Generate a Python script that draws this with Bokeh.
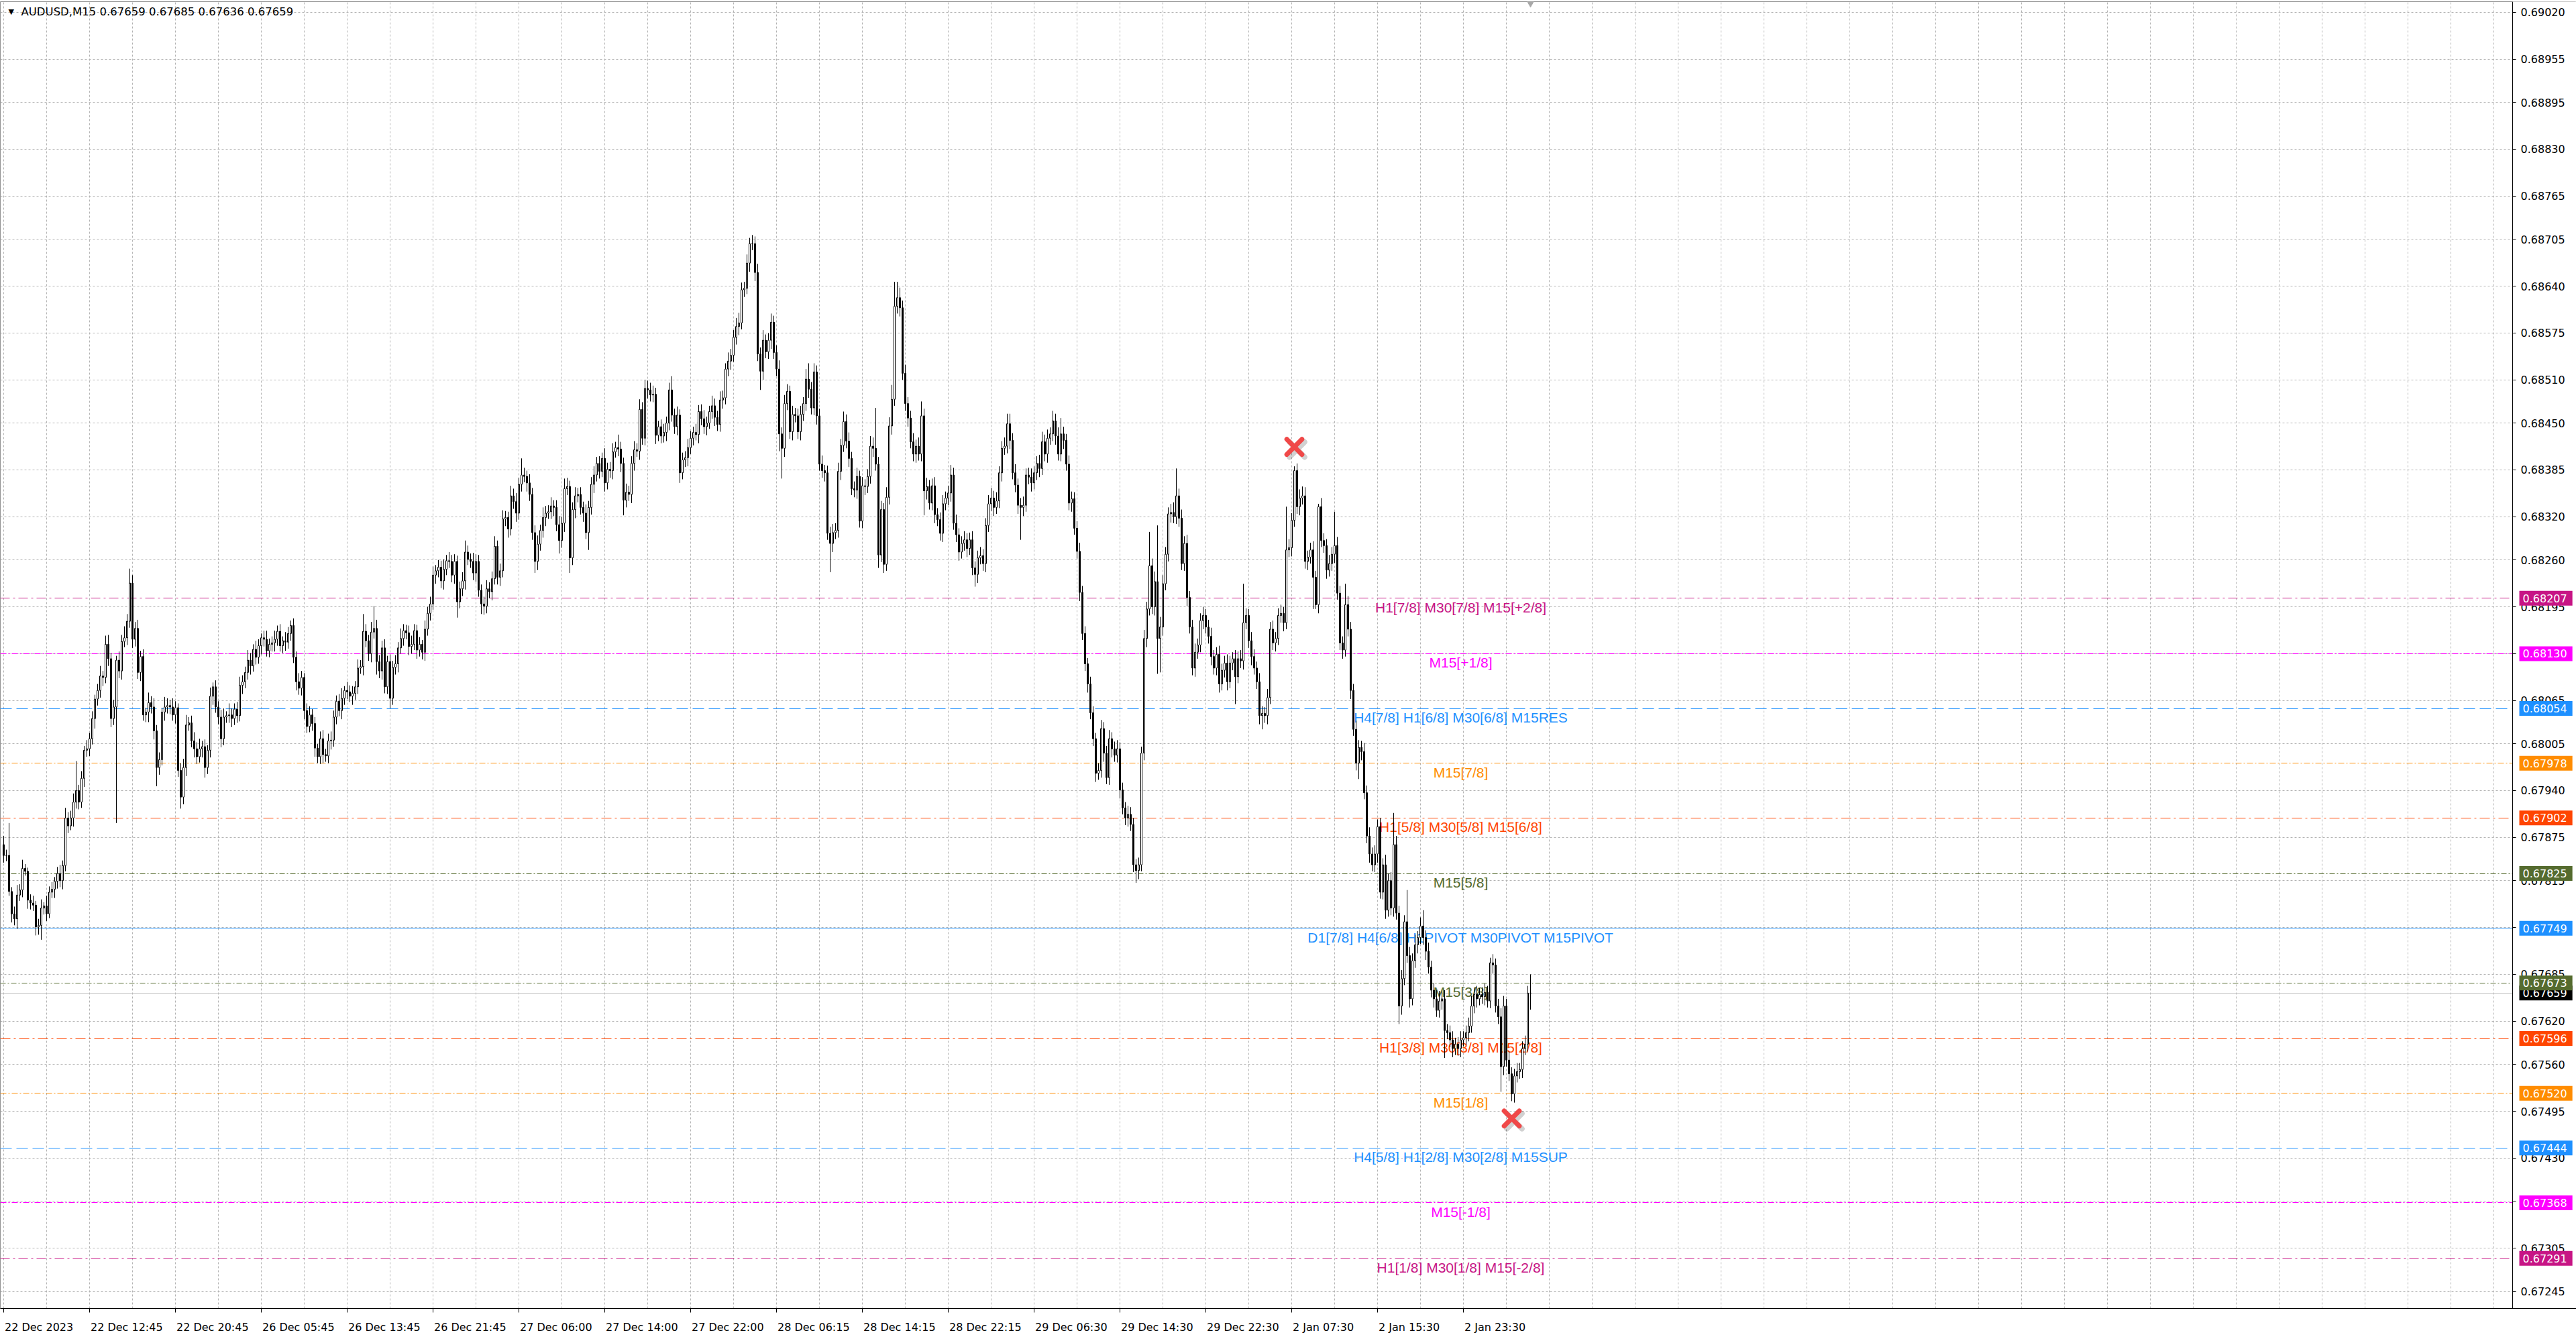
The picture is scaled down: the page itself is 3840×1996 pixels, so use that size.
import numpy as np
from bokeh.plotting import figure
from bokeh.models import (ColumnDataSource, FixedTicker, NumeralTickFormatter,
                          Label, Range1d)
from bokeh.core.properties import value
from bokeh.embed import file_html
from bokeh.resources import INLINE

# ---------------- data ----------------
symbol_title = "AUDUSD,M15  0.67659 0.67685 0.67636 0.67659"
BASE_PRICE = 0.67          # prices below are in points (1e-5) above this base
first_open_pts = 865

close_pts = [
    850, 850, 800, 769, 762, 795, 802, 832, 828, 788,
    784, 781, 751, 753, 777, 780, 769, 799, 803, 814,
    825, 815, 836, 902, 891, 902, 924, 940, 924, 957,
    996, 998, 1012, 1040, 1067, 1079, 1099, 1097, 1143, 1123,
    1040, 1056, 1121, 1106, 1147, 1152, 1175, 1228, 1150, 1165,
    1104, 1126, 1045, 1049, 1062, 1056, 1023, 972, 983, 1049,
    1056, 1058, 1056, 1045, 1055, 968, 931, 972, 1031, 1034,
    1009, 998, 987, 998, 1001, 972, 996, 1071, 1084, 1056,
    1042, 1012, 1042, 1044, 1045, 1040, 1053, 1044, 1086, 1091,
    1104, 1121, 1113, 1136, 1125, 1141, 1152, 1150, 1134, 1143,
    1145, 1150, 1161, 1141, 1148, 1146, 1158, 1169, 1125, 1091,
    1082, 1097, 1051, 1029, 1045, 1033, 999, 987, 1012, 990,
    988, 1009, 1010, 1042, 1064, 1051, 1068, 1079, 1077, 1071,
    1075, 1084, 1110, 1112, 1161, 1148, 1130, 1160, 1165, 1119,
    1106, 1138, 1084, 1119, 1068, 1111, 1116, 1138, 1151, 1162,
    1159, 1140, 1143, 1162, 1135, 1143, 1132, 1164, 1186, 1199,
    1239, 1245, 1250, 1231, 1247, 1259, 1258, 1239, 1258, 1202,
    1220, 1231, 1271, 1261, 1258, 1242, 1258, 1218, 1199, 1196,
    1220, 1216, 1234, 1279, 1236, 1245, 1317, 1319, 1303, 1349,
    1341, 1325, 1365, 1378, 1376, 1367, 1351, 1298, 1258, 1282,
    1301, 1319, 1325, 1327, 1335, 1333, 1309, 1287, 1311, 1359,
    1362, 1263, 1330, 1349, 1351, 1333, 1325, 1298, 1333, 1365,
    1378, 1394, 1383, 1401, 1367, 1386, 1384, 1410, 1416, 1414,
    1394, 1343, 1354, 1351, 1394, 1413, 1411, 1469, 1429, 1498,
    1496, 1489, 1490, 1433, 1445, 1432, 1437, 1450, 1496, 1461,
    1445, 1461, 1381, 1399, 1402, 1416, 1429, 1437, 1434, 1466,
    1456, 1445, 1450, 1466, 1474, 1458, 1448, 1482, 1485, 1525,
    1536, 1544, 1569, 1584, 1589, 1635, 1637, 1672, 1699, 1699,
    1659, 1546, 1522, 1565, 1549, 1565, 1590, 1548, 1525, 1435,
    1415, 1477, 1494, 1438, 1462, 1460, 1438, 1462, 1477, 1511,
    1497, 1471, 1521, 1460, 1393, 1384, 1381, 1297, 1283, 1298,
    1301, 1383, 1419, 1452, 1425, 1401, 1359, 1357, 1376, 1314,
    1363, 1362, 1376, 1418, 1415, 1393, 1267, 1330, 1254, 1347,
    1446, 1483, 1612, 1624, 1610, 1519, 1477, 1457, 1424, 1407,
    1418, 1407, 1460, 1356, 1362, 1339, 1363, 1323, 1316, 1297,
    1338, 1346, 1353, 1378, 1311, 1295, 1271, 1283, 1288, 1276,
    1288, 1249, 1240, 1263, 1266, 1255, 1308, 1338, 1346, 1333,
    1342, 1381, 1415, 1418, 1449, 1426, 1381, 1364, 1336, 1333,
    1336, 1378, 1375, 1367, 1381, 1394, 1387, 1424, 1407, 1429,
    1435, 1453, 1432, 1407, 1435, 1426, 1393, 1339, 1345, 1304,
    1272, 1215, 1158, 1116, 1088, 1048, 1012, 964, 968, 1026,
    992, 958, 1012, 998, 989, 998, 941, 916, 902, 907,
    893, 837, 829, 837, 992, 1151, 1192, 1252, 1195, 1230,
    1151, 1167, 1227, 1268, 1324, 1326, 1320, 1349, 1318, 1255,
    1283, 1208, 1167, 1110, 1132, 1142, 1176, 1183, 1167, 1154,
    1126, 1110, 1129, 1088, 1107, 1117, 1091, 1117, 1123, 1098,
    1123, 1120, 1173, 1183, 1148, 1126, 1110, 1091, 1044, 1047,
    1044, 1069, 1164, 1145, 1151, 1183, 1186, 1173, 1274, 1277,
    1315, 1384, 1334, 1346, 1349, 1258, 1264, 1274, 1236, 1198,
    1334, 1287, 1280, 1246, 1255, 1268, 1280, 1214, 1145, 1135,
    1198, 1164, 1079, 1025, 978, 1000, 994, 937, 877, 852,
    837, 852, 890, 799, 837, 774, 815, 777, 865, 770,
    641, 679, 758, 711, 651, 704, 726, 736, 752, 736,
    717, 695, 663, 651, 635, 648, 651, 607, 604, 594,
    582, 588, 582, 594, 597, 604, 613, 641, 657, 651,
    657, 654, 660, 648, 701, 698, 641, 626, 557, 641,
    566, 547, 519, 544, 550, 553, 582, 588, 659, 659,
]

upper_wick_pts = [
    12, 8, 45, 6, 10, 14, 8, 12, 6, 5,
    8, 10, 6, 9, 12, 5, 14, 8, 10, 6,
    9, 12, 7, 14, 8, 10, 12, 41, 8, 10,
    6, 12, 8, 10, 6, 9, 14, 7, 12, 13,
    8, 10, 6, 12, 9, 16, 10, 20, 11, 9,
    12, 8, 10, 6, 14, 9, 12, 8, 10, 6,
    14, 10, 8, 12, 9, 6, 10, 12, 14, 8,
    10, 12, 9, 14, 8, 10, 7, 12, 6, 9,
    8, 10, 12, 6, 16, 9, 8, 10, 12, 9,
    8, 14, 10, 7, 12, 9, 6, 10, 12, 8,
    9, 12, 8, 10, 6, 12, 9, 7, 10, 8,
    12, 9, 6, 10, 12, 8, 9, 6, 10, 12,
    8, 10, 12, 9, 8, 10, 14, 6, 12, 9,
    10, 8, 12, 9, 24, 10, 8, 14, 31, 12,
    9, 10, 12, 8, 10, 9, 12, 8, 14, 9,
    8, 10, 12, 9, 8, 10, 6, 12, 9, 10,
    12, 8, 10, 9, 14, 8, 12, 9, 10, 8,
    10, 12, 16, 9, 8, 12, 10, 9, 8, 10,
    12, 9, 10, 14, 8, 10, 12, 9, 8, 14,
    10, 12, 9, 23, 10, 8, 12, 9, 10, 12,
    8, 14, 10, 9, 12, 8, 10, 12, 9, 14,
    12, 8, 10, 12, 9, 10, 8, 12, 9, 10,
    12, 9, 10, 8, 14, 9, 10, 12, 8, 18,
    10, 8, 12, 9, 10, 12, 9, 14, 10, 12,
    11, 10, 12, 9, 8, 10, 12, 9, 10, 19,
    9, 12, 8, 10, 9, 12, 10, 8, 12, 9,
    10, 12, 9, 8, 14, 10, 9, 12, 10, 8,
    12, 9, 10, 12, 14, 10, 9, 12, 8, 12,
    10, 12, 9, 14, 8, 10, 12, 9, 10, 12,
    9, 12, 10, 8, 12, 9, 10, 12, 9, 14,
    22, 10, 12, 9, 10, 12, 8, 10, 9, 12,
    10, 12, 9, 14, 10, 12, 9, 10, 12, 8,
    12, 9, 10, 14, 12, 56, 10, 12, 9, 14,
    12, 20, 34, 22, 14, 10, 12, 9, 10, 12,
    9, 12, 20, 10, 12, 9, 10, 12, 9, 10,
    12, 9, 10, 14, 10, 12, 9, 10, 12, 9,
    10, 12, 9, 10, 12, 9, 10, 12, 14, 10,
    12, 9, 10, 12, 14, 14, 10, 12, 9, 10,
    12, 9, 10, 12, 9, 10, 12, 14, 10, 12,
    9, 14, 10, 12, 22, 10, 9, 12, 10, 9,
    10, 12, 9, 10, 8, 10, 9, 8, 10, 12,
    9, 10, 12, 9, 10, 12, 9, 10, 8, 12,
    10, 9, 8, 10, 9, 12, 10, 47, 10, 14,
    78, 14, 12, 10, 9, 12, 14, 38, 10, 12,
    10, 12, 9, 10, 12, 9, 10, 12, 9, 10,
    12, 9, 10, 12, 9, 10, 12, 10, 9, 12,
    10, 12, 54, 10, 9, 12, 10, 9, 12, 10,
    9, 12, 10, 12, 9, 10, 12, 9, 60, 12,
    10, 6, 10, 12, 13, 12, 9, 10, 12, 9,
    4, 12, 10, 9, 12, 10, 47, 12, 10, 9,
    29, 12, 10, 9, 12, 10, 9, 12, 10, 12,
    9, 12, 10, 12, 9, 14, 10, 12, 44, 12,
    10, 12, 9, 44, 12, 10, 14, 9, 12, 22,
    10, 12, 9, 10, 12, 14, 10, 12, 9, 10,
    12, 9, 10, 12, 9, 10, 12, 14, 10, 12,
    9, 10, 12, 9, 7, 12, 9, 10, 12, 14,
    10, 12, 9, 10, 12, 9, 10, 12, 10, 26,
]

lower_wick_pts = [
    10, 8, 6, 12, 9, 14, 8, 10, 6, 12,
    9, 8, 12, 11, 20, 9, 10, 6, 8, 12,
    10, 9, 12, 8, 10, 6, 12, 9, 10, 8,
    12, 9, 10, 8, 14, 9, 10, 12, 8, 10,
    12, 9, 161, 10, 12, 8, 10, 9, 12, 10,
    9, 12, 8, 10, 14, 9, 12, 26, 10, 8,
    12, 9, 10, 8, 12, 9, 16, 10, 12, 8,
    9, 12, 10, 8, 12, 14, 9, 10, 12, 8,
    10, 12, 9, 8, 10, 12, 9, 10, 8, 12,
    9, 10, 12, 8, 10, 9, 12, 10, 8, 9,
    10, 12, 9, 8, 10, 12, 9, 10, 8, 12,
    9, 10, 12, 9, 8, 10, 12, 9, 10, 12,
    8, 10, 12, 9, 10, 8, 12, 9, 10, 8,
    12, 9, 10, 8, 12, 9, 10, 12, 9, 18,
    10, 12, 9, 10, 14, 9, 10, 12, 8, 10,
    9, 12, 10, 8, 12, 9, 10, 12, 9, 10,
    8, 12, 9, 10, 12, 8, 9, 10, 12, 22,
    9, 10, 12, 8, 9, 10, 12, 9, 14, 12,
    10, 9, 12, 8, 10, 12, 9, 10, 12, 9,
    10, 12, 9, 10, 8, 12, 9, 10, 16, 12,
    9, 10, 12, 8, 10, 12, 9, 18, 10, 12,
    9, 21, 10, 12, 9, 10, 12, 9, 24, 10,
    12, 9, 10, 8, 12, 9, 10, 12, 8, 10,
    12, 21, 10, 9, 12, 10, 8, 12, 9, 10,
    12, 9, 10, 12, 8, 10, 9, 12, 10, 9,
    10, 12, 14, 9, 10, 12, 9, 10, 8, 12,
    9, 10, 12, 8, 10, 12, 9, 10, 12, 9,
    10, 12, 9, 10, 12, 9, 10, 8, 12, 9,
    12, 10, 26, 12, 9, 10, 12, 9, 10, 24,
    42, 12, 9, 10, 12, 9, 10, 12, 9, 10,
    12, 9, 10, 12, 9, 10, 12, 9, 40, 12,
    9, 10, 12, 9, 10, 12, 9, 10, 12, 9,
    10, 12, 9, 10, 12, 9, 18, 10, 12, 9,
    10, 12, 9, 10, 12, 9, 10, 12, 9, 10,
    12, 9, 10, 34, 12, 9, 10, 12, 9, 10,
    12, 9, 10, 12, 9, 10, 12, 9, 10, 12,
    9, 10, 17, 12, 9, 10, 12, 9, 10, 12,
    9, 10, 12, 9, 10, 12, 9, 10, 12, 45,
    12, 9, 10, 12, 9, 10, 12, 9, 10, 12,
    9, 10, 12, 9, 10, 12, 9, 10, 12, 9,
    10, 12, 9, 10, 12, 9, 10, 12, 9, 10,
    12, 9, 10, 12, 9, 10, 12, 9, 10, 12,
    9, 10, 17, 12, 9, 10, 12, 9, 10, 12,
    49, 47, 12, 9, 10, 12, 9, 10, 12, 9,
    10, 12, 9, 10, 12, 9, 10, 12, 9, 10,
    12, 9, 10, 12, 9, 10, 12, 9, 10, 38,
    9, 10, 12, 9, 10, 12, 9, 10, 12, 19,
    10, 12, 9, 10, 12, 9, 10, 12, 9, 10,
    12, 9, 10, 12, 9, 10, 12, 9, 44, 6,
    12, 9, 10, 12, 9, 10, 12, 9, 10, 12,
    9, 10, 12, 9, 10, 22, 12, 9, 10, 12,
    9, 10, 12, 9, 10, 12, 9, 10, 12, 9,
    25, 12, 9, 10, 12, 9, 10, 12, 9, 10,
    12, 9, 10, 12, 9, 10, 12, 38, 9, 10,
    12, 9, 10, 12, 9, 10, 12, 9, 10, 12,
    9, 10, 12, 9, 10, 12, 9, 10, 35, 12,
    9, 10, 10, 12, 9, 10, 12, 9, 10, 23,
]

time_labels = ["22 Dec 2023", "22 Dec 12:45", "22 Dec 20:45", "26 Dec 05:45",
               "26 Dec 13:45", "26 Dec 21:45", "27 Dec 06:00", "27 Dec 14:00",
               "27 Dec 22:00", "28 Dec 06:15", "28 Dec 14:15", "28 Dec 22:15",
               "29 Dec 06:30", "29 Dec 14:30", "29 Dec 22:30", "2 Jan 07:30",
               "2 Jan 15:30", "2 Jan 23:30"]
bars_per_label = 32
bars_per_grid = 16

price_ticks = [0.69020, 0.68955, 0.68895, 0.68830, 0.68765, 0.68705, 0.68640,
               0.68575, 0.68510, 0.68450, 0.68385, 0.68320, 0.68260, 0.68195,
               0.68130, 0.68065, 0.68005, 0.67940, 0.67875, 0.67815, 0.67750,
               0.67685, 0.67620, 0.67560, 0.67495, 0.67430, 0.67370, 0.67305,
               0.67245]

level_prices = [0.68207, 0.68130, 0.68054, 0.67978, 0.67902, 0.67825, 0.67749,
                0.67673, 0.67596, 0.67520, 0.67444, 0.67368, 0.67291]
level_kinds = ["oct2", "oct1", "resup", "oct7", "oct6", "oct5", "pivot",
               "oct5", "oct6", "oct7", "resup", "oct1", "oct2"]
level_texts = ["H1[7/8] M30[7/8] M15[+2/8]", "M15[+1/8]",
               "H4[7/8] H1[6/8] M30[6/8] M15RES", "M15[7/8]",
               "H1[5/8] M30[5/8] M15[6/8]", "M15[5/8]",
               "D1[7/8] H4[6/8] H1PIVOT M30PIVOT M15PIVOT", "M15[3/8]",
               "H1[3/8] M30[3/8] M15[2/8]", "M15[1/8]",
               "H4[5/8] H1[2/8] M30[2/8] M15SUP", "M15[-1/8]",
               "H1[1/8] M30[1/8] M15[-2/8]"]
level_label_bar = 543

current_price = 0.67659
fractal_bar = [481, 562]
fractal_price = [0.68417, 0.67485]

# ---------------- styles / geometry ----------------
kind_style = {
    "oct2": ("#C71585", "14 5 3 5"),
    "oct1": ("#FF00FF", "9 3 2 3"),
    "resup": ("#1E90FF", "17 7"),
    "oct7": ("#FF8C00", "9 3 2 3"),
    "oct6": ("#FF4500", "15 5 3 5"),
    "oct5": ("#556B2F", "8 3 2 3"),
    "pivot": ("#1E90FF", "solid"),
}

W, H = 3840, 1996
BORDER_TOP, BORDER_BOTTOM = 2, 46
AXIS_PX = 3745                      # screen x of the price axis line
FRAME_W = W
FRAME_H = H - BORDER_TOP - BORDER_BOTTOM
PX_PER_BAR = 4.0
x_start = -1.25
x_end = x_start + FRAME_W / PX_PER_BAR
axis_x = x_start + AXIS_PX / PX_PER_BAR
y_end = 0.690348
y_start = 0.672213
pxu = FRAME_H / (y_end - y_start)


def snap(pr):
    """nudge a price so that a 1px line lands on a whole pixel row"""
    sy = (y_end - pr) * pxu
    return y_end - np.round(sy) / pxu


# approximate DejaVu Sans advance widths (em) to left-align time labels on their ticks
CHAR_EM = {" ": 0.318, ":": 0.337, "D": 0.770, "e": 0.615, "c": 0.550,
           "J": 0.295, "a": 0.613, "n": 0.634}
AXIS_FONT_PX = 16


def text_px(s):
    return sum(CHAR_EM.get(ch, 0.636) for ch in s) * AXIS_FONT_PX


# ---------------- candles ----------------
c = np.array(close_pts, dtype=float)
o = np.concatenate([[first_open_pts], c[:-1]])
hi = np.maximum(o, c) + np.array(upper_wick_pts)
lo = np.minimum(o, c) - np.array(lower_wick_pts)
idx = np.arange(len(c))


def to_price(a):
    return BASE_PRICE + a / 1e5


src = ColumnDataSource(dict(i=idx, h=to_price(hi), l=to_price(lo)))
bull = c >= o
top_p = to_price(np.maximum(o, c))
bot_p = to_price(np.minimum(o, c))
src_bull = ColumnDataSource(dict(i=idx[bull], top=top_p[bull], bot=bot_p[bull]))
src_bear = ColumnDataSource(dict(i=idx[~bull], top=top_p[~bull], bot=bot_p[~bull]))

p = figure(width=W, height=H, x_range=Range1d(x_start, x_end), y_range=Range1d(y_start, y_end),
           output_backend="svg", toolbar_location=None, y_axis_location="right",
           min_border_left=0, min_border_top=BORDER_TOP, min_border_right=0,
           min_border_bottom=BORDER_BOTTOM)
p.background_fill_color = "white"
p.border_fill_color = "white"
p.outline_line_color = "#909090"
p.outline_line_width = 1

# grid
p.xgrid.ticker = FixedTicker(ticks=list(range(0, int(axis_x) + 1, bars_per_grid)))
p.ygrid.ticker = FixedTicker(ticks=price_ticks)
for g in (p.xgrid, p.ygrid):
    g.grid_line_color = "#b4b4b4"
    g.grid_line_dash = "3 3"
    g.grid_line_width = 1

# time axis: labels placed so that they start at their tick (minor ticks mark bar positions)
tick_bars = [k * bars_per_label for k in range(len(time_labels))]
label_pos = [b + (text_px(t) / 2 + 1.5) / PX_PER_BAR for b, t in zip(tick_bars, time_labels)]
ax = p.xaxis[0]
ax.ticker = FixedTicker(ticks=label_pos, minor_ticks=tick_bars)
ax.major_label_overrides = {lp: t for lp, t in zip(label_pos, time_labels)}
ax.major_label_text_font = "DejaVu Sans"
ax.major_label_text_font_size = f"{AXIS_FONT_PX}px"
ax.major_label_text_color = "black"
ax.major_tick_out = 0
ax.major_tick_in = 0
ax.minor_tick_out = 6
ax.minor_tick_in = 0
ax.major_label_standoff = 12
ax.axis_line_color = "black"
ax.minor_tick_line_color = "black"

# price axis drawn at a fixed location inside the (full width) frame
ay = p.yaxis[0]
ay.fixed_location = axis_x
ay.ticker = FixedTicker(ticks=price_ticks)
ay.formatter = NumeralTickFormatter(format="0.00000")
ay.major_label_text_font = "DejaVu Sans"
ay.major_label_text_font_size = "16px"
ay.major_label_text_color = "black"
ay.major_tick_out = 5
ay.major_tick_in = 0
ay.minor_tick_out = 0
ay.minor_tick_in = 0
ay.major_label_standoff = 7
ay.axis_line_color = "black"
ay.major_tick_line_color = "black"

# blank price-scale strip right of the axis line (hides grid there)
p.quad(left=[axis_x], right=[x_end + 2], bottom=[y_start - 0.001], top=[y_end + 0.001],
       fill_color="white", line_color=None)

# level lines (stop at the price axis, behind candles)
for pr, kd in zip(level_prices, level_kinds):
    col, dash = kind_style[kd]
    yy = snap(pr)
    p.segment(x0=[x_start], y0=[yy], x1=[axis_x], y1=[yy], line_color=col,
              line_dash=dash, line_width=1)
yy = snap(current_price)
p.segment(x0=[x_start], y0=[yy], x1=[axis_x], y1=[yy], line_color="#C0C0C0", line_width=1)

# level texts
lvl_src = ColumnDataSource(dict(x=[level_label_bar] * len(level_prices), y=level_prices,
                                t=level_texts, col=[kind_style[k][0] for k in level_kinds]))
p.text(x="x", y="y", text="t", text_color="col", source=lvl_src,
       text_font=value("Liberation Sans"), text_font_size="21px",
       text_align="center", text_baseline="top", y_offset=2)

# candles
p.segment(x0="i", y0="l", x1="i", y1="h", source=src, line_color="black", line_width=1)
p.vbar(x="i", top="top", bottom="bot", width=0.5, source=src_bull,
       fill_color="white", line_color="black", line_width=1)
p.vbar(x="i", top="top", bottom="bot", width=0.5, source=src_bear,
       fill_color="black", line_color="black", line_width=1)

# fractal crosses with soft shadow
fx = np.array(fractal_bar, dtype=float)
fy = np.array(fractal_price)
p.scatter(x=fx + 1.0, y=fy - 4 / pxu, marker="x", size=32, line_width=8,
          line_color="black", line_alpha=0.18, line_cap="round")
p.scatter(x=fx, y=fy, marker="x", size=32, line_width=7,
          line_color="#F04848", line_cap="round")

# shift marker at top
p.scatter(x=[len(close_pts) - 1], y=[y_end], marker="inverted_triangle", size=14,
          fill_color="#A8A8A8", line_color="#A8A8A8")

# title
title_y = y_end - 15 / pxu
p.add_layout(Label(x=x_start + 3.0, y=title_y, text="\u25BC", text_font="DejaVu Sans",
                   text_font_size="11px", text_color="black", text_baseline="middle"))
p.add_layout(Label(x=x_start + 31 / PX_PER_BAR, y=title_y, text=symbol_title,
                   text_font="DejaVu Sans", text_font_size="16.5px", text_color="black",
                   text_baseline="middle"))

# price boxes on the price scale
box_x = axis_x + 10 / PX_PER_BAR


def price_box(pr, bg):
    p.add_layout(Label(x=box_x, y=pr, text=f"{pr:.5f}", text_font="DejaVu Sans",
                       text_font_size="16px", text_color="white", text_align="left",
                       text_baseline="middle", background_fill_color=bg,
                       padding=(5, 8, 5, 5)))


price_box(current_price, "black")
for pr, kd in zip(level_prices, level_kinds):
    price_box(pr, kind_style[kd][0])

open("out.html", "w").write(file_html(p, INLINE))
